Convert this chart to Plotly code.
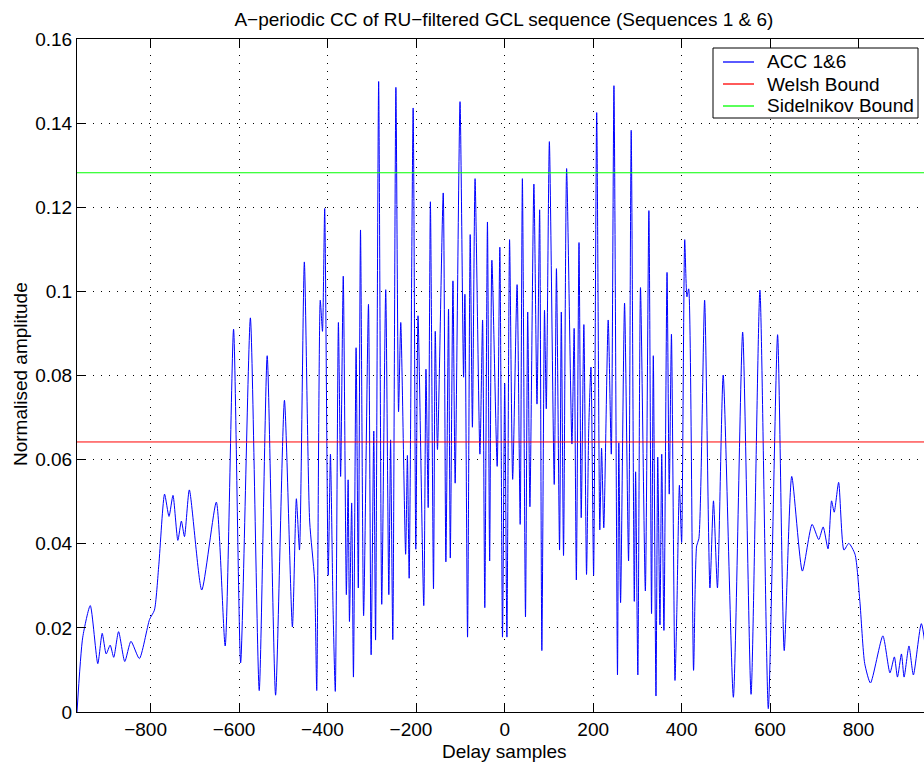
import plotly.graph_objects as go

# Delay samples (x) and normalised amplitude (y) of the ACC 1&6 curve
delay = [
    -967, -954, -937, -920, -910, -901, -892, -884, -873, -859, -845, -826, -803, -792, -782,
    -769, -759, -750, -739, -731, -724, -713, -685, -652, -632, -613, -597, -575, -555, -537,
    -518, -498, -480, -471, -464, -453, -441, -430, -425, -417, -412, -407, -399, -394, -388,
    -383, -376, -371, -365, -358, -354, -351, -346, -342, -336, -331, -326, -319, -308, -302,
    -296, -292, -285, -278, -269, -262, -258, -253, -246, -240, -235, -224, -220, -216, -207,
    -201, -196, -183, -178, -173, -168, -161, -157, -152, -139, -133, -127, -123, -117, -112,
    -101, -93, -90, -84, -78, -73, -67, -56, -50, -45, -39, -34, -29, -17, -11,
    -5, 0, 5, 11, 18, 28, 35, 40, 47, 52, 57, 66, 73, 79, 84,
    90, 94, 101, 112, 117, 124, 128, 133, 140, 152, 157, 162, 168, 173, 179,
    185, 190, 195, 201, 208, 215, 219, 224, 234, 241, 247, 255, 258, 262, 271,
    280, 286, 293, 296, 301, 307, 318, 326, 332, 336, 342, 346, 351, 355, 360,
    367, 372, 377, 385, 389, 395, 400, 407, 412, 416, 427, 434, 439, 452, 464,
    472, 481, 494, 517, 538, 557, 577, 596, 617, 632, 649, 673, 695, 710, 720,
    731, 739, 745, 755, 767, 778, 792, 803, 814, 827, 855, 871, 881, 888, 897,
    903, 914, 924, 942, 967,
]
acc = [
    0.0, 0.0178, 0.0253, 0.0115, 0.0187, 0.0138, 0.0159, 0.0130, 0.0191, 0.0120, 0.0168, 0.0127, 0.0220, 0.0242, 0.0350,
    0.0518, 0.0465, 0.0515, 0.0408, 0.0454, 0.0417, 0.0528, 0.0290, 0.0499, 0.0157, 0.0910, 0.0117, 0.0937, 0.0051, 0.0847,
    0.0040, 0.0741, 0.0202, 0.0507, 0.0385, 0.1070, 0.0454, 0.0316, 0.0051, 0.0979, 0.0905, 0.1197, 0.0325, 0.0613, 0.0242,
    0.0049, 0.0926, 0.0560, 0.1036, 0.0279, 0.0552, 0.0215, 0.0497, 0.0083, 0.0866, 0.0295, 0.1146, 0.0229, 0.0969, 0.0136,
    0.0668, 0.0171, 0.1499, 0.0256, 0.1004, 0.0279, 0.0647, 0.0172, 0.1485, 0.0714, 0.0926, 0.0375, 0.0610, 0.0318, 0.1436,
    0.0387, 0.0942, 0.0253, 0.0815, 0.0486, 0.1213, 0.0293, 0.0905, 0.0624, 0.1234, 0.0357, 0.0958, 0.0366, 0.1025, 0.0544,
    0.1451, 0.0796, 0.0993, 0.0178, 0.1135, 0.0677, 0.1268, 0.0613, 0.0932, 0.0248, 0.1165, 0.0359, 0.1074, 0.0584, 0.1105,
    0.0178, 0.0781, 0.0178, 0.1123, 0.0553, 0.1016, 0.0446, 0.1268, 0.0226, 0.0951, 0.0488, 0.1255, 0.0732, 0.1194, 0.0146,
    0.0955, 0.0721, 0.1356, 0.0541, 0.1054, 0.0385, 0.0951, 0.0372, 0.1292, 0.0637, 0.0912, 0.0314, 0.1116, 0.0462, 0.0921,
    0.0327, 0.0674, 0.0820, 0.0325, 0.1425, 0.0433, 0.0627, 0.0438, 0.0932, 0.0613, 0.1489, 0.0088, 0.0640, 0.0260, 0.0972,
    0.0359, 0.1383, 0.0263, 0.0571, 0.0088, 0.1009, 0.0288, 0.1192, 0.0234, 0.0847, 0.0038, 0.0606, 0.0207, 0.0613, 0.0194,
    0.1045, 0.0518, 0.0898, 0.0075, 0.0231, 0.0539, 0.0403, 0.1123, 0.0987, 0.1006, 0.0099, 0.0395, 0.0412, 0.0979, 0.0295,
    0.0502, 0.0295, 0.0801, 0.0035, 0.0903, 0.0042, 0.1003, 0.0008, 0.0897, 0.0146, 0.0560, 0.0335, 0.0446, 0.0410, 0.0440,
    0.0388, 0.0502, 0.0475, 0.0546, 0.0385, 0.0401, 0.0375, 0.0263, 0.0115, 0.0069, 0.0181, 0.0093, 0.0131, 0.0083, 0.0138,
    0.0083, 0.0157, 0.0088, 0.0210, 0.0,
]

welsh_bound = 0.0642
sidelnikov_bound = 0.1282

x_limits = [-967, 948]
y_limits = [0, 0.16]
x_ticks = [-800, -600, -400, -200, 0, 200, 400, 600, 800]
x_ticktext = ["\u2212800\u2007", "\u2212600\u2007", "\u2212400\u2007", "\u2212200\u2007", "0", "200", "400", "600", "800"]
y_ticks = [0, 0.02, 0.04, 0.06, 0.08, 0.10, 0.12, 0.14, 0.16]
y_ticktext = ["0", "0.02", "0.04", "0.06", "0.08", "0.1", "0.12", "0.14", "0.16"]

series_names = ["ACC 1&6", "Welsh Bound", "Sidelnikov Bound"]
series_colors = ["#0000FF", "#FF0000", "#00FF00"]

title_text = "A\u2212periodic CC of RU\u2212filtered GCL sequence (Sequences 1 & 6)"
FONT = "Liberation Sans, Arial, Helvetica, sans-serif"
FS = 19

# plot-area geometry (pixels) used to place the legend box
L, R, T, B = 77, 924, 39, 712
def px(xp):
    return (xp - L) / (R - L)
def py(yp):
    return (B - yp) / (B - T)

fig = go.Figure()
fig.add_trace(go.Scatter(x=delay, y=acc, mode="lines", name=series_names[0],
                         line=dict(color=series_colors[0], width=1, shape="spline", smoothing=0.6)))
fig.add_trace(go.Scatter(x=x_limits, y=[welsh_bound, welsh_bound], mode="lines", name=series_names[1],
                         line=dict(color=series_colors[1], width=1)))
fig.add_trace(go.Scatter(x=x_limits, y=[sidelnikov_bound, sidelnikov_bound], mode="lines",
                         name=series_names[2], line=dict(color=series_colors[2], width=1)))

grid = dict(showgrid=True, gridcolor="#000000", gridwidth=1, griddash="1px,7px")

# legend drawn as a box with sample lines and labels (MATLAB-style compact legend)
shapes = [dict(type="rect", xref="paper", yref="paper", x0=px(713), x1=px(918), y0=py(118), y1=py(48),
               fillcolor="white", line=dict(color="black", width=1), layer="above")]
annotations = []
rows = [62, 84, 106]
for name, color, ry in zip(series_names, series_colors, rows):
    shapes.append(dict(type="line", xref="paper", yref="paper", x0=px(723), x1=px(754), y0=py(ry), y1=py(ry),
                       line=dict(color=color, width=1.3), layer="above"))
    annotations.append(dict(text=name, x=px(765), xref="paper", y=py(ry), yref="paper",
                            xanchor="left", yanchor="middle", showarrow=False,
                            font=dict(family=FONT, size=FS, color="black")))

annotations += [
    dict(text="Delay samples", x=0, xref="x", y=py(751), yref="paper",
         xanchor="center", yanchor="middle", showarrow=False,
         font=dict(family=FONT, size=FS, color="black")),
    dict(text="Normalised amplitude", x=px(20), xref="paper", y=py(374), yref="paper",
         xanchor="center", yanchor="middle", textangle=-90, showarrow=False,
         font=dict(family=FONT, size=FS, color="black")),
]

fig.update_layout(
    width=924, height=763,
    margin=dict(l=L, r=924 - R, t=T, b=763 - B),
    paper_bgcolor="white", plot_bgcolor="white",
    font=dict(family=FONT, size=FS, color="black"),
    showlegend=False,
    title=dict(text=title_text, x=0.504, xref="paper", xanchor="center",
               y=1 - 19 / 763, yref="container", yanchor="middle",
               font=dict(family=FONT, size=FS, color="black")),
    xaxis=dict(range=x_limits, tickvals=x_ticks, ticktext=x_ticktext,
               ticks="inside", ticklen=8, tickcolor="black", tickwidth=1,
               showline=True, linecolor="black", linewidth=1, mirror="allticks",
               ticklabelstandoff=0,
               zeroline=False, tickfont=dict(family=FONT, size=FS, color="black"), **grid),
    yaxis=dict(range=y_limits, tickvals=y_ticks, ticktext=y_ticktext,
               ticks="inside", ticklen=8, tickcolor="black", tickwidth=1,
               showline=True, linecolor="black", linewidth=1, mirror=False,
               zeroline=False, tickfont=dict(family=FONT, size=FS, color="black"), **grid),
    shapes=shapes,
    annotations=annotations,
)

fig.write_html("out.html")
